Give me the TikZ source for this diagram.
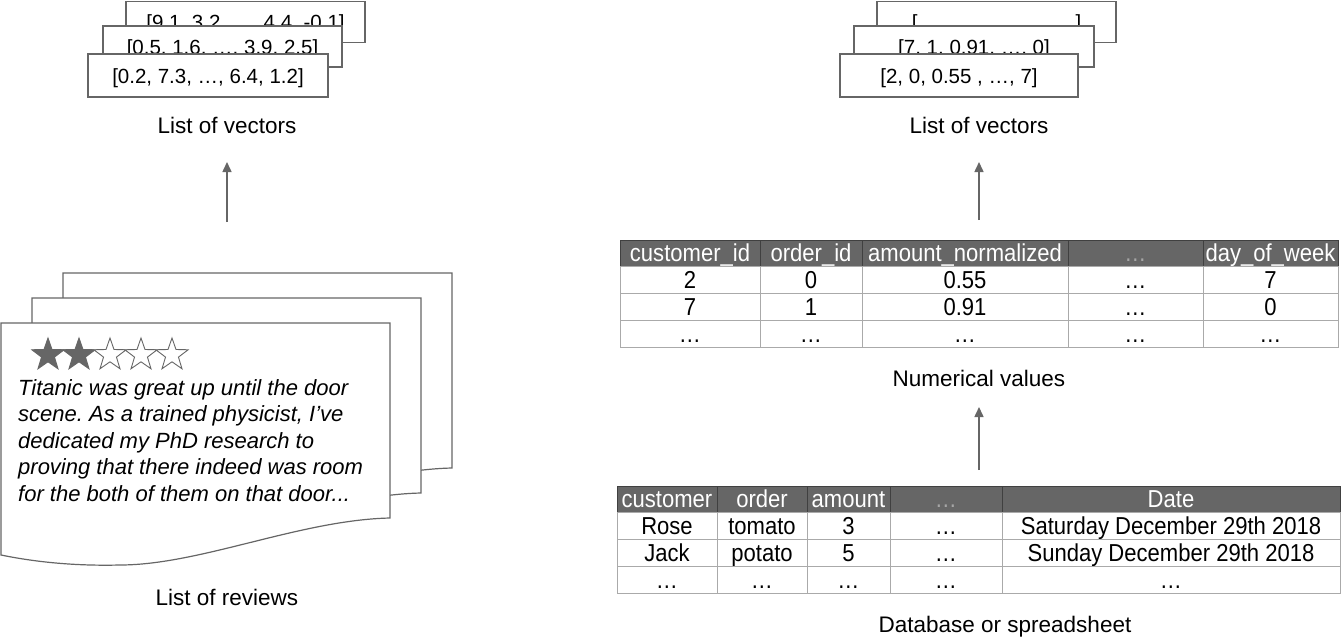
\documentclass[tikz,border=0pt]{standalone}
\usepackage{fontspec}
\setmainfont{Liberation Sans}
\newfontfamily\condfont[FakeStretch=0.9]{Liberation Sans}
\usetikzlibrary{calc, arrows.meta, shapes.geometric}
\frenchspacing

\definecolor{linegray}{HTML}{666666}
\definecolor{headgray}{HTML}{666666}
\definecolor{gridgray}{HTML}{AAAAAA}

\tikzset{
	vec box/.style = {draw=linegray, line width=1.2pt, fill=white, inner sep=0pt,
		text height=15pt, text depth=0pt, font=\fontsize{20.5}{24}\selectfont},
	caption/.style = {inner sep=0pt, text height=16pt, text depth=0pt,
		font=\fontsize{22.5}{27}\selectfont},
	flow/.style = {draw=linegray, line width=1.5pt, -{Triangle[width=9pt,length=10pt]}},
	head cell/.style = {draw=black!75, fill=headgray, text=white, inner sep=0pt,
		text height=19pt, text depth=2pt, font=\condfont\fontsize{24.5}{27}\selectfont},
	body cell/.style = {draw=gridgray, inner sep=0pt,
		text height=19pt, text depth=2pt, font=\condfont\fontsize{24.5}{27}\selectfont},
	review page/.style = {draw=linegray, line width=1.2pt, fill=white},
	review star/.style = {star, star points=5, star point ratio=2.5, minimum size=34pt,
		inner sep=0pt, draw=linegray, line width=0.9pt}
}

\begin{document}
\begin{tikzpicture}[x=1pt, y=-1pt]
		\useasboundingbox (0,0) rectangle (1342,637);
		
		%vectors from the reviews
		\node [vec box, minimum width=239pt, minimum height=40.5pt] (lvec3) at (245.5,22) {[9.1, 3.2, …, 4.4, -0.1]};
		\node [vec box, minimum width=239pt, minimum height=41pt] (lvec2) at (222.5,46.5) {[0.5, 1.6, …, 3.9, 2.5]};
		\node [vec box, minimum width=240pt, minimum height=43pt] (lvec1) at (208,75.5) {[0.2, 7.3, …, 6.4, 1.2]};
		\node [caption] (lvec label) at (227,125) {List of vectors};
		
		%vectors from the table
		\node [vec box, minimum width=239pt, minimum height=40.5pt] (rvec3) at (996.5,22) {[\hspace{158pt}]};
		\node [vec box, minimum width=240pt, minimum height=41pt] (rvec2) at (974,46.5) {[7, 1, 0.91, …, 0]};
		\node [vec box, minimum width=238pt, minimum height=43pt] (rvec1) at (959,75.5) {[2, 0, 0.55 , …, 7]};
		\node [caption] (rvec label) at (979,125) {List of vectors};
		
		%reviews
		\foreach \dx/\dy in {62/-50, 31/-25, 0/0}
		{
			\filldraw [review page, shift={(\dx,\dy)}] (1,323) -- (390,323) -- (390,518)
				.. controls (300,520) and (200,565) .. (120,565)
				.. controls (80,566) and (40,563) .. (1,555) -- cycle;
		}
		\foreach \i in {0,1}
			\node [review star, fill=headgray] (star\i) at ({48+31*\i},355) {};
		\foreach \i in {2,3,4}
			\node [review star, fill=white] (star\i) at ({48+31*\i},355) {};
		\node [anchor=north west, inner sep=0pt, align=left,
			font=\fontsize{22}{26.6}\selectfont\itshape] (review text) at (18,379)
			{Titanic was great up until the door\\
			scene. As a trained physicist, I’ve\\
			dedicated my PhD research to\\
			proving that there indeed was room\\
			for the both of them on that door...};
		\node [caption] (review label) at (227,597) {List of reviews};
		
		%numerical table
		\foreach \c/\xa/\xb/\hd/\ra/\rb in {1/620/760/customer\_id/2/7, 2/760/862/order\_id/0/1,
			3/862/1068/amount\_normalized/0.55/0.91, 4/1068/1203/{\color{black!35}…}/…/…,
			5/1203/1338/day\_of\_week/7/0}
		{
			\pgfmathsetmacro\w{\xb-\xa}
			\pgfmathsetmacro\xm{(\xa+\xb)/2}
			\node [head cell, minimum width=\w pt, minimum height=26pt] (num-0-\c) at (\xm,253) {\hd};
			\node [body cell, minimum width=\w pt, minimum height=27pt] (num-1-\c) at (\xm,279.5) {\ra};
			\node [body cell, minimum width=\w pt, minimum height=27pt] (num-2-\c) at (\xm,306.5) {\rb};
			\node [body cell, minimum width=\w pt, minimum height=27pt] (num-3-\c) at (\xm,333.5) {…};
		}
		\node [caption] (num label) at (979,378) {Numerical values};
		
		%raw table
		\foreach \c/\xa/\xb/\hd/\ra/\rb in {1/617/717/customer/Rose/Jack, 2/717/807/order/tomato/potato,
			3/807/890/amount/3/5, 4/890/1002/{\color{black!35}…}/…/…,
			5/1002/1340/Date/Saturday December 29th 2018/Sunday December 29th 2018}
		{
			\pgfmathsetmacro\w{\xb-\xa}
			\pgfmathsetmacro\xm{(\xa+\xb)/2}
			\node [head cell, minimum width=\w pt, minimum height=26pt] (raw-0-\c) at (\xm,499) {\hd};
			\node [body cell, minimum width=\w pt, minimum height=27pt] (raw-1-\c) at (\xm,525.5) {\ra};
			\node [body cell, minimum width=\w pt, minimum height=27pt] (raw-2-\c) at (\xm,552.5) {\rb};
			\node [body cell, minimum width=\w pt, minimum height=27pt] (raw-3-\c) at (\xm,579.5) {…};
		}
		\node [caption] (raw label) at (1005,624) {Database or spreadsheet};
		
		%arrows
		\coordinate (review out) at (227,222);
		\coordinate (lvec in) at (227,162);
		\coordinate (num out) at (979,220);
		\coordinate (rvec in) at (979,162);
		\coordinate (raw out) at (979,470);
		\coordinate (num in) at (979,407);
		\draw [flow] (review out) -- (lvec in);
		\draw [flow] (num out) -- (rvec in);
		\draw [flow] (raw out) -- (num in);
	\end{tikzpicture}
\end{document}
